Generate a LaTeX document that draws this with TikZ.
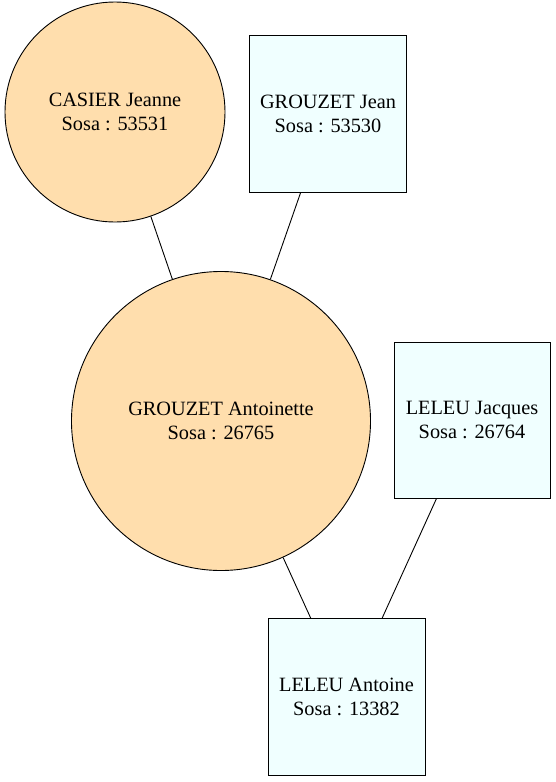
\documentclass[tikz,border=0pt]{standalone}
\usepackage{fontspec}
\setmainfont{Liberation Serif}
\usepackage{xcolor}
\usetikzlibrary{positioning}
\definecolor{womanfill}{HTML}{FFDEAD}
\definecolor{manfill}{HTML}{F0FFFF}
\tikzset{
    woman/.style={draw, circle, fill=womanfill, inner sep=0pt, align=center},
    man/.style={draw, rectangle, fill=manfill, inner sep=0pt, align=center, minimum size=157pt},
    link/.style={draw, line width=0.9pt}
}
\newcommand{\sosa}[2]{#1\\Sosa : #2}

\begin{document}
\begin{tikzpicture}[x=1pt, y=-1pt, line width=0.9pt, font=\fontsize{20.3}{23.5}\selectfont]
    \useasboundingbox (0,0) rectangle (555,782);
    \node[woman, minimum size=220pt] (casier) at (115,112) {\sosa{CASIER Jeanne}{53531}};
    \node[man] (jean) at (328,114) {\sosa{GROUZET Jean}{53530}};
    \node[woman, minimum size=299pt] (antoinette) at (221,421) {\sosa{GROUZET Antoinette}{26765}};
    \node[man, minimum size=156pt] (jacques) at (472,420) {\sosa{LELEU Jacques}{26764}};
    \node[man] (antoine) at (346.5,697) {\sosa{LELEU Antoine}{13382}};
    \draw[link]
    (casier) -- (antoinette)
    (jean) -- (antoinette)
    (antoinette) -- (antoine)
    (jacques) -- (antoine);
\end{tikzpicture}
\end{document}
